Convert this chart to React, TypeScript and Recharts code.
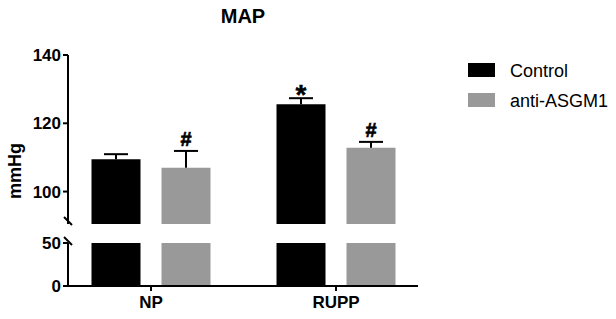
import React from 'react';
import { BarChart, Bar, XAxis, YAxis, LabelList } from 'recharts';

// ---- data ----
const categories = ['NP', 'RUPP'];
const seriesNames = ['Control', 'anti-ASGM1'];
const controlMean = [109.5, 125.6];
const controlSem = [1.45, 1.75];
const antiMean = [107.0, 112.8];
const antiSem = [4.9, 1.75];
const controlMarks = ['', '*'];
const antiMarks = ['#', '#'];
const upperTicks = [100, 120, 140];
const lowerTicks = [0, 50];
const upperDomain = [90.5, 140];
const lowerDomain = [0, 50];
const title = 'MAP';
const yLabel = 'mmHg';

const COLORS = ['#000000', '#999999'];
const FONT = '"Liberation Sans", Arial, Helvetica, sans-serif';

const upperData = categories.map((c, i) => ({
  cat: c,
  ctrl: controlMean[i],
  ctrlErr: controlSem[i],
  ctrlMark: controlMarks[i],
  anti: antiMean[i],
  antiErr: antiSem[i],
  antiMark: antiMarks[i],
}));

const lowerData = categories.map((c, i) => ({
  cat: c,
  ctrl: Math.min(controlMean[i], lowerDomain[1]),
  anti: Math.min(antiMean[i], lowerDomain[1]),
}));

const ErrShape = (props: any) => {
  const { x, y, width, height } = props;
  if (x == null || y == null) return null;
  const cx = x + width / 2;
  return (
    <g>
      <line x1={cx} y1={y + height} x2={cx} y2={y} stroke="#000" strokeWidth={2} />
      <line x1={cx - 12} y1={y} x2={cx + 12} y2={y} stroke="#000" strokeWidth={2} />
    </g>
  );
};

const MarkLabel = (props: any) => {
  const { x, y, width, value } = props;
  if (!value) return null;
  const cx = x + width / 2;
  if (value === '*') {
    return (
      <text x={cx} y={y + 6} textAnchor="middle" fontSize={28} fontWeight="bold" fill="#000" stroke="#000" strokeWidth={0.4}>
        {value}
      </text>
    );
  }
  return (
    <text x={cx} y={y - 5} textAnchor="middle" fontSize={20} fontWeight="bold" fill="#000" stroke="#000" strokeWidth={0.6}>
      {value}
    </text>
  );
};

const tickStyle = { fill: '#000', fontSize: 17, fontWeight: 'bold' as const };
const axisLineStyle = { stroke: '#000', strokeWidth: 2 };
const xPadding = { left: -9.5, right: -10.5 };

export default function App() {
  return (
    <div style={{ position: 'absolute', left: 0, top: 0, width: 616, height: 319, background: '#fff', fontFamily: FONT }}>
      <div style={{ position: 'absolute', left: 0, top: 0 }}>
        <BarChart
          width={616}
          height={230}
          data={upperData}
          margin={{ top: 55, right: 198, left: 0, bottom: 6 }}
          barSize={49}
          barGap={21}
        >
          <XAxis dataKey="cat" type="category" hide padding={xPadding} />
          <YAxis
            type="number"
            domain={upperDomain}
            ticks={upperTicks}
            allowDataOverflow
            width={68}
            tick={tickStyle}
            axisLine={axisLineStyle}
            tickLine={axisLineStyle}
            tickSize={5}
            tickMargin={2}
          />
          <Bar dataKey="ctrl" stackId="c" fill={COLORS[0]} isAnimationActive={false} />
          <Bar dataKey="ctrlErr" stackId="c" shape={ErrShape} isAnimationActive={false}>
            <LabelList dataKey="ctrlMark" content={MarkLabel} />
          </Bar>
          <Bar dataKey="anti" stackId="a" fill={COLORS[1]} isAnimationActive={false} />
          <Bar dataKey="antiErr" stackId="a" shape={ErrShape} isAnimationActive={false}>
            <LabelList dataKey="antiMark" content={MarkLabel} />
          </Bar>
        </BarChart>
      </div>
      <div style={{ position: 'absolute', left: 0, top: 0 }}>
        <BarChart
          width={616}
          height={319}
          data={lowerData}
          margin={{ top: 243, right: 198, left: 0, bottom: 0 }}
          barSize={49}
          barGap={21}
        >
          <XAxis
            dataKey="cat"
            type="category"
            padding={xPadding}
            height={33}
            tick={tickStyle}
            axisLine={axisLineStyle}
            tickLine={axisLineStyle}
            tickSize={5}
            tickMargin={5}
          />
          <YAxis
            type="number"
            domain={lowerDomain}
            ticks={lowerTicks}
            allowDataOverflow
            width={68}
            tick={tickStyle}
            axisLine={axisLineStyle}
            tickLine={axisLineStyle}
            tickSize={5}
            tickMargin={2}
          />
          <Bar dataKey="ctrl" fill={COLORS[0]} isAnimationActive={false} />
          <Bar dataKey="anti" fill={COLORS[1]} isAnimationActive={false} />
        </BarChart>
      </div>
      <svg width={616} height={319} style={{ position: 'absolute', left: 0, top: 0, pointerEvents: 'none' }}>
        <text x={243} y={23} textAnchor="middle" fontSize={20} fontWeight="bold" fill="#000">
          {title}
        </text>
        <text transform="translate(21,171) rotate(-90)" textAnchor="middle" fontSize={18} fontWeight="bold" fill="#000">
          {yLabel}
        </text>
        <line x1={64} y1={217} x2={72} y2={225} stroke="#000" strokeWidth={2} />
        <line x1={64} y1={237} x2={72} y2={245} stroke="#000" strokeWidth={2} />
        {seriesNames.map((name, i) => (
          <g key={name}>
            <rect x={468} y={63 + i * 30} width={27} height={14} fill={COLORS[i]} />
            <text x={510} y={77 + i * 30} fontSize={18} fill="#000">
              {name}
            </text>
          </g>
        ))}
      </svg>
    </div>
  );
}
